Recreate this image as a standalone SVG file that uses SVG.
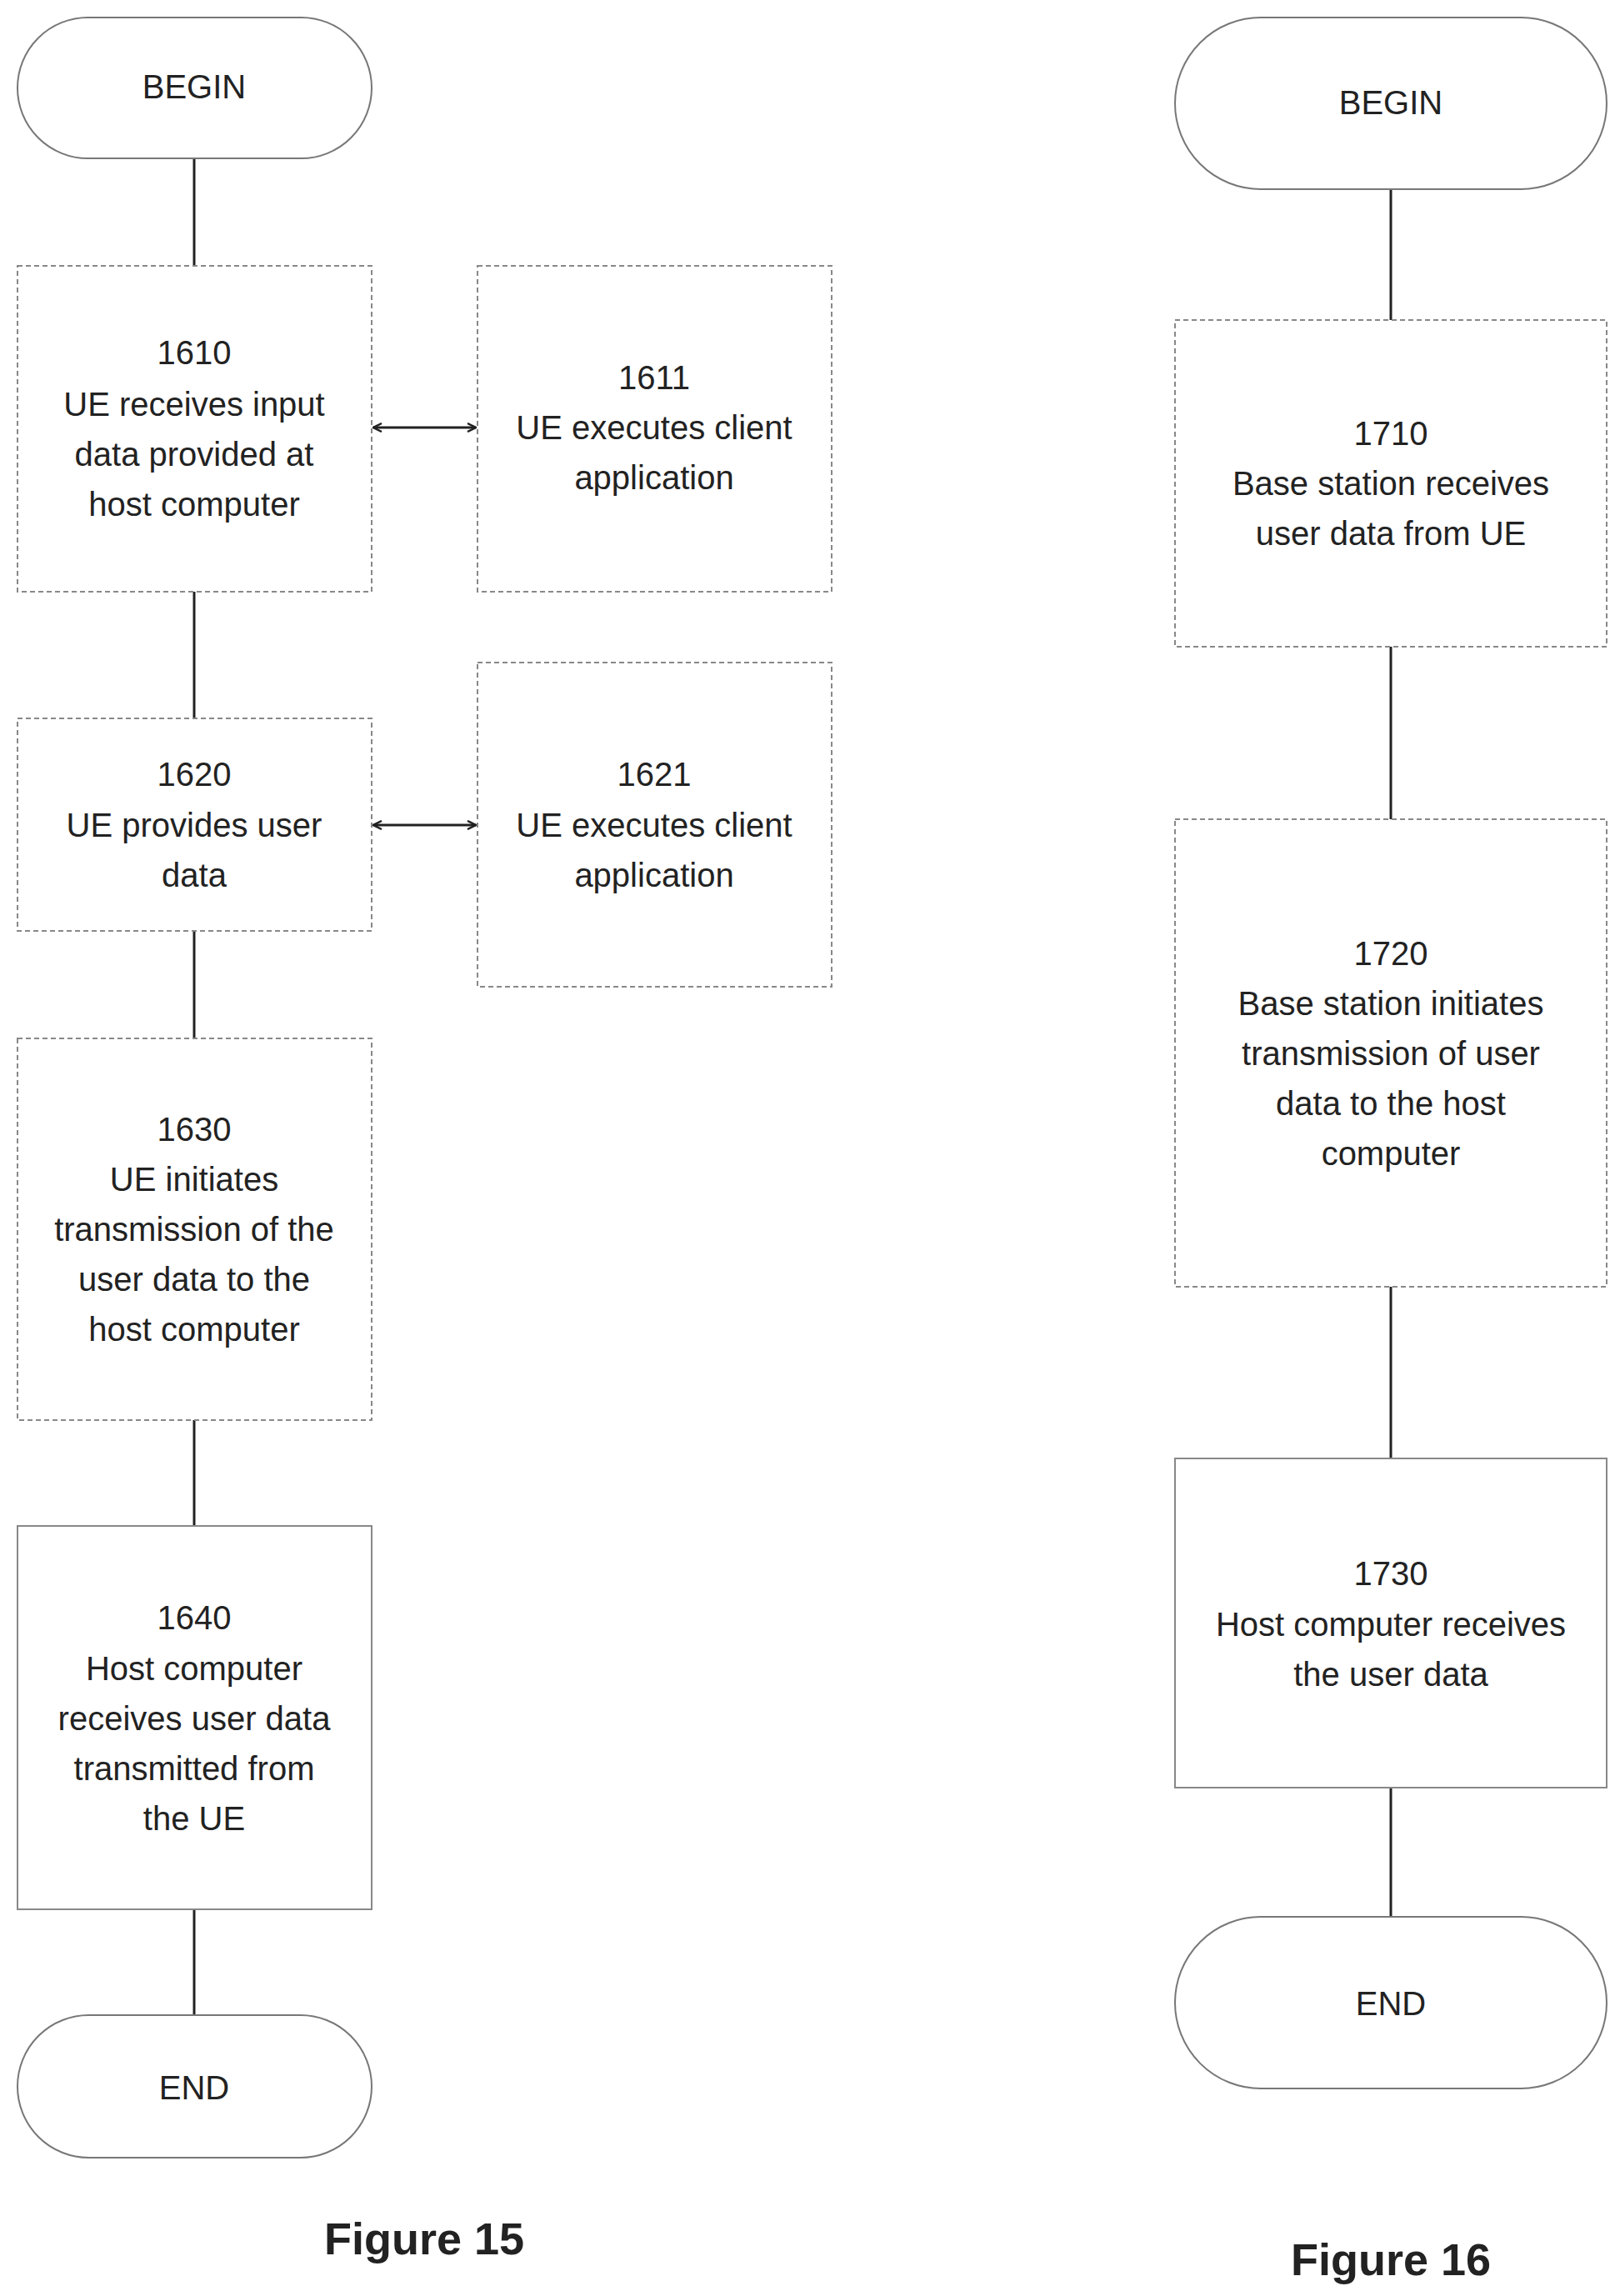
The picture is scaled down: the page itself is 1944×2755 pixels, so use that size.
<svg xmlns="http://www.w3.org/2000/svg" width="1944" height="2755" viewBox="0 0 1944 2755">
<style>
.t{font-family:"Liberation Sans","Open Sans",sans-serif;font-size:40px;fill:#222;text-anchor:middle;dominant-baseline:central}
.f{font-family:"Liberation Sans","Open Sans",sans-serif;font-size:54px;font-weight:bold;fill:#222;text-anchor:middle;dominant-baseline:central}
.term{fill:#fff;stroke:#777;stroke-width:2}
.dash{fill:#fff;stroke:#888;stroke-width:2;stroke-dasharray:6 4}
.solid{fill:#fff;stroke:#888;stroke-width:2}
.c{stroke:#222;stroke-width:3;fill:none}
</style>
<defs>
<marker id="a" markerWidth="12" markerHeight="12" refX="11" refY="6" orient="auto-start-reverse" markerUnits="userSpaceOnUse">
<path d="M1,1 L11,6 L1,11" fill="none" stroke="#222" stroke-width="2.5"/>
</marker>
</defs>
<g id="connectors">
<line class="c" x1="233" y1="190" x2="233" y2="319"/>
<line class="c" x1="233" y1="710" x2="233" y2="862"/>
<line class="c" x1="233" y1="1117" x2="233" y2="1246"/>
<line class="c" x1="233" y1="1704" x2="233" y2="1831"/>
<line class="c" x1="233" y1="2291" x2="233" y2="2418"/>
<line class="c" x1="448" y1="513" x2="571" y2="513" marker-start="url(#a)" marker-end="url(#a)"/>
<line class="c" x1="448" y1="990" x2="571" y2="990" marker-start="url(#a)" marker-end="url(#a)"/>
<line class="c" x1="1669" y1="227" x2="1669" y2="384"/>
<line class="c" x1="1669" y1="776" x2="1669" y2="983"/>
<line class="c" x1="1669" y1="1544" x2="1669" y2="1750"/>
<line class="c" x1="1669" y1="2145" x2="1669" y2="2300"/>
</g>
<g id="begin15"><rect class="term" x="21" y="21" width="425" height="169" rx="84.5"/><text class="t" x="233" y="104">BEGIN</text></g>
<g id="n1610"><rect class="dash" x="21" y="319" width="425" height="391"/>
<text class="t" x="233" y="423">1610</text><text class="t" x="233" y="485">UE receives input</text><text class="t" x="233" y="545">data provided at</text><text class="t" x="233" y="605">host computer</text></g>
<g id="n1611"><rect class="dash" x="573" y="319" width="425" height="391"/>
<text class="t" x="785" y="453">1611</text><text class="t" x="785" y="513">UE executes client</text><text class="t" x="785" y="573">application</text></g>
<g id="n1620"><rect class="dash" x="21" y="862" width="425" height="255"/>
<text class="t" x="233" y="929">1620</text><text class="t" x="233" y="990">UE provides user</text><text class="t" x="233" y="1050">data</text></g>
<g id="n1621"><rect class="dash" x="573" y="795" width="425" height="389"/>
<text class="t" x="785" y="929">1621</text><text class="t" x="785" y="990">UE executes client</text><text class="t" x="785" y="1050">application</text></g>
<g id="n1630"><rect class="dash" x="21" y="1246" width="425" height="458"/>
<text class="t" x="233" y="1355">1630</text><text class="t" x="233" y="1415">UE initiates</text><text class="t" x="233" y="1475">transmission of the</text><text class="t" x="233" y="1535">user data to the</text><text class="t" x="233" y="1595">host computer</text></g>
<g id="n1640"><rect class="solid" x="21" y="1831" width="425" height="460"/>
<text class="t" x="233" y="1941">1640</text><text class="t" x="233" y="2002">Host computer</text><text class="t" x="233" y="2062">receives user data</text><text class="t" x="233" y="2122">transmitted from</text><text class="t" x="233" y="2182">the UE</text></g>
<g id="end15"><rect class="term" x="21" y="2418" width="425" height="171" rx="85.5"/><text class="t" x="233" y="2505">END</text></g>
<g id="fig15"><text class="f" x="509" y="2686">Figure 15</text></g>
<g id="begin16"><rect class="term" x="1410" y="21" width="518" height="206" rx="103"/><text class="t" x="1669" y="123">BEGIN</text></g>
<g id="n1710"><rect class="dash" x="1410" y="384" width="518" height="392"/>
<text class="t" x="1669" y="520">1710</text><text class="t" x="1669" y="580">Base station receives</text><text class="t" x="1669" y="640">user data from UE</text></g>
<g id="n1720"><rect class="dash" x="1410" y="983" width="518" height="561"/>
<text class="t" x="1669" y="1144">1720</text><text class="t" x="1669" y="1204">Base station initiates</text><text class="t" x="1669" y="1264">transmission of user</text><text class="t" x="1669" y="1324">data to the host</text><text class="t" x="1669" y="1384">computer</text></g>
<g id="n1730"><rect class="solid" x="1410" y="1750" width="518" height="395"/>
<text class="t" x="1669" y="1888">1730</text><text class="t" x="1669" y="1949">Host computer receives</text><text class="t" x="1669" y="2009">the user data</text></g>
<g id="end16"><rect class="term" x="1410" y="2300" width="518" height="206" rx="103"/><text class="t" x="1669" y="2404">END</text></g>
<g id="fig16"><text class="f" x="1669" y="2711">Figure 16</text></g>
</svg>
